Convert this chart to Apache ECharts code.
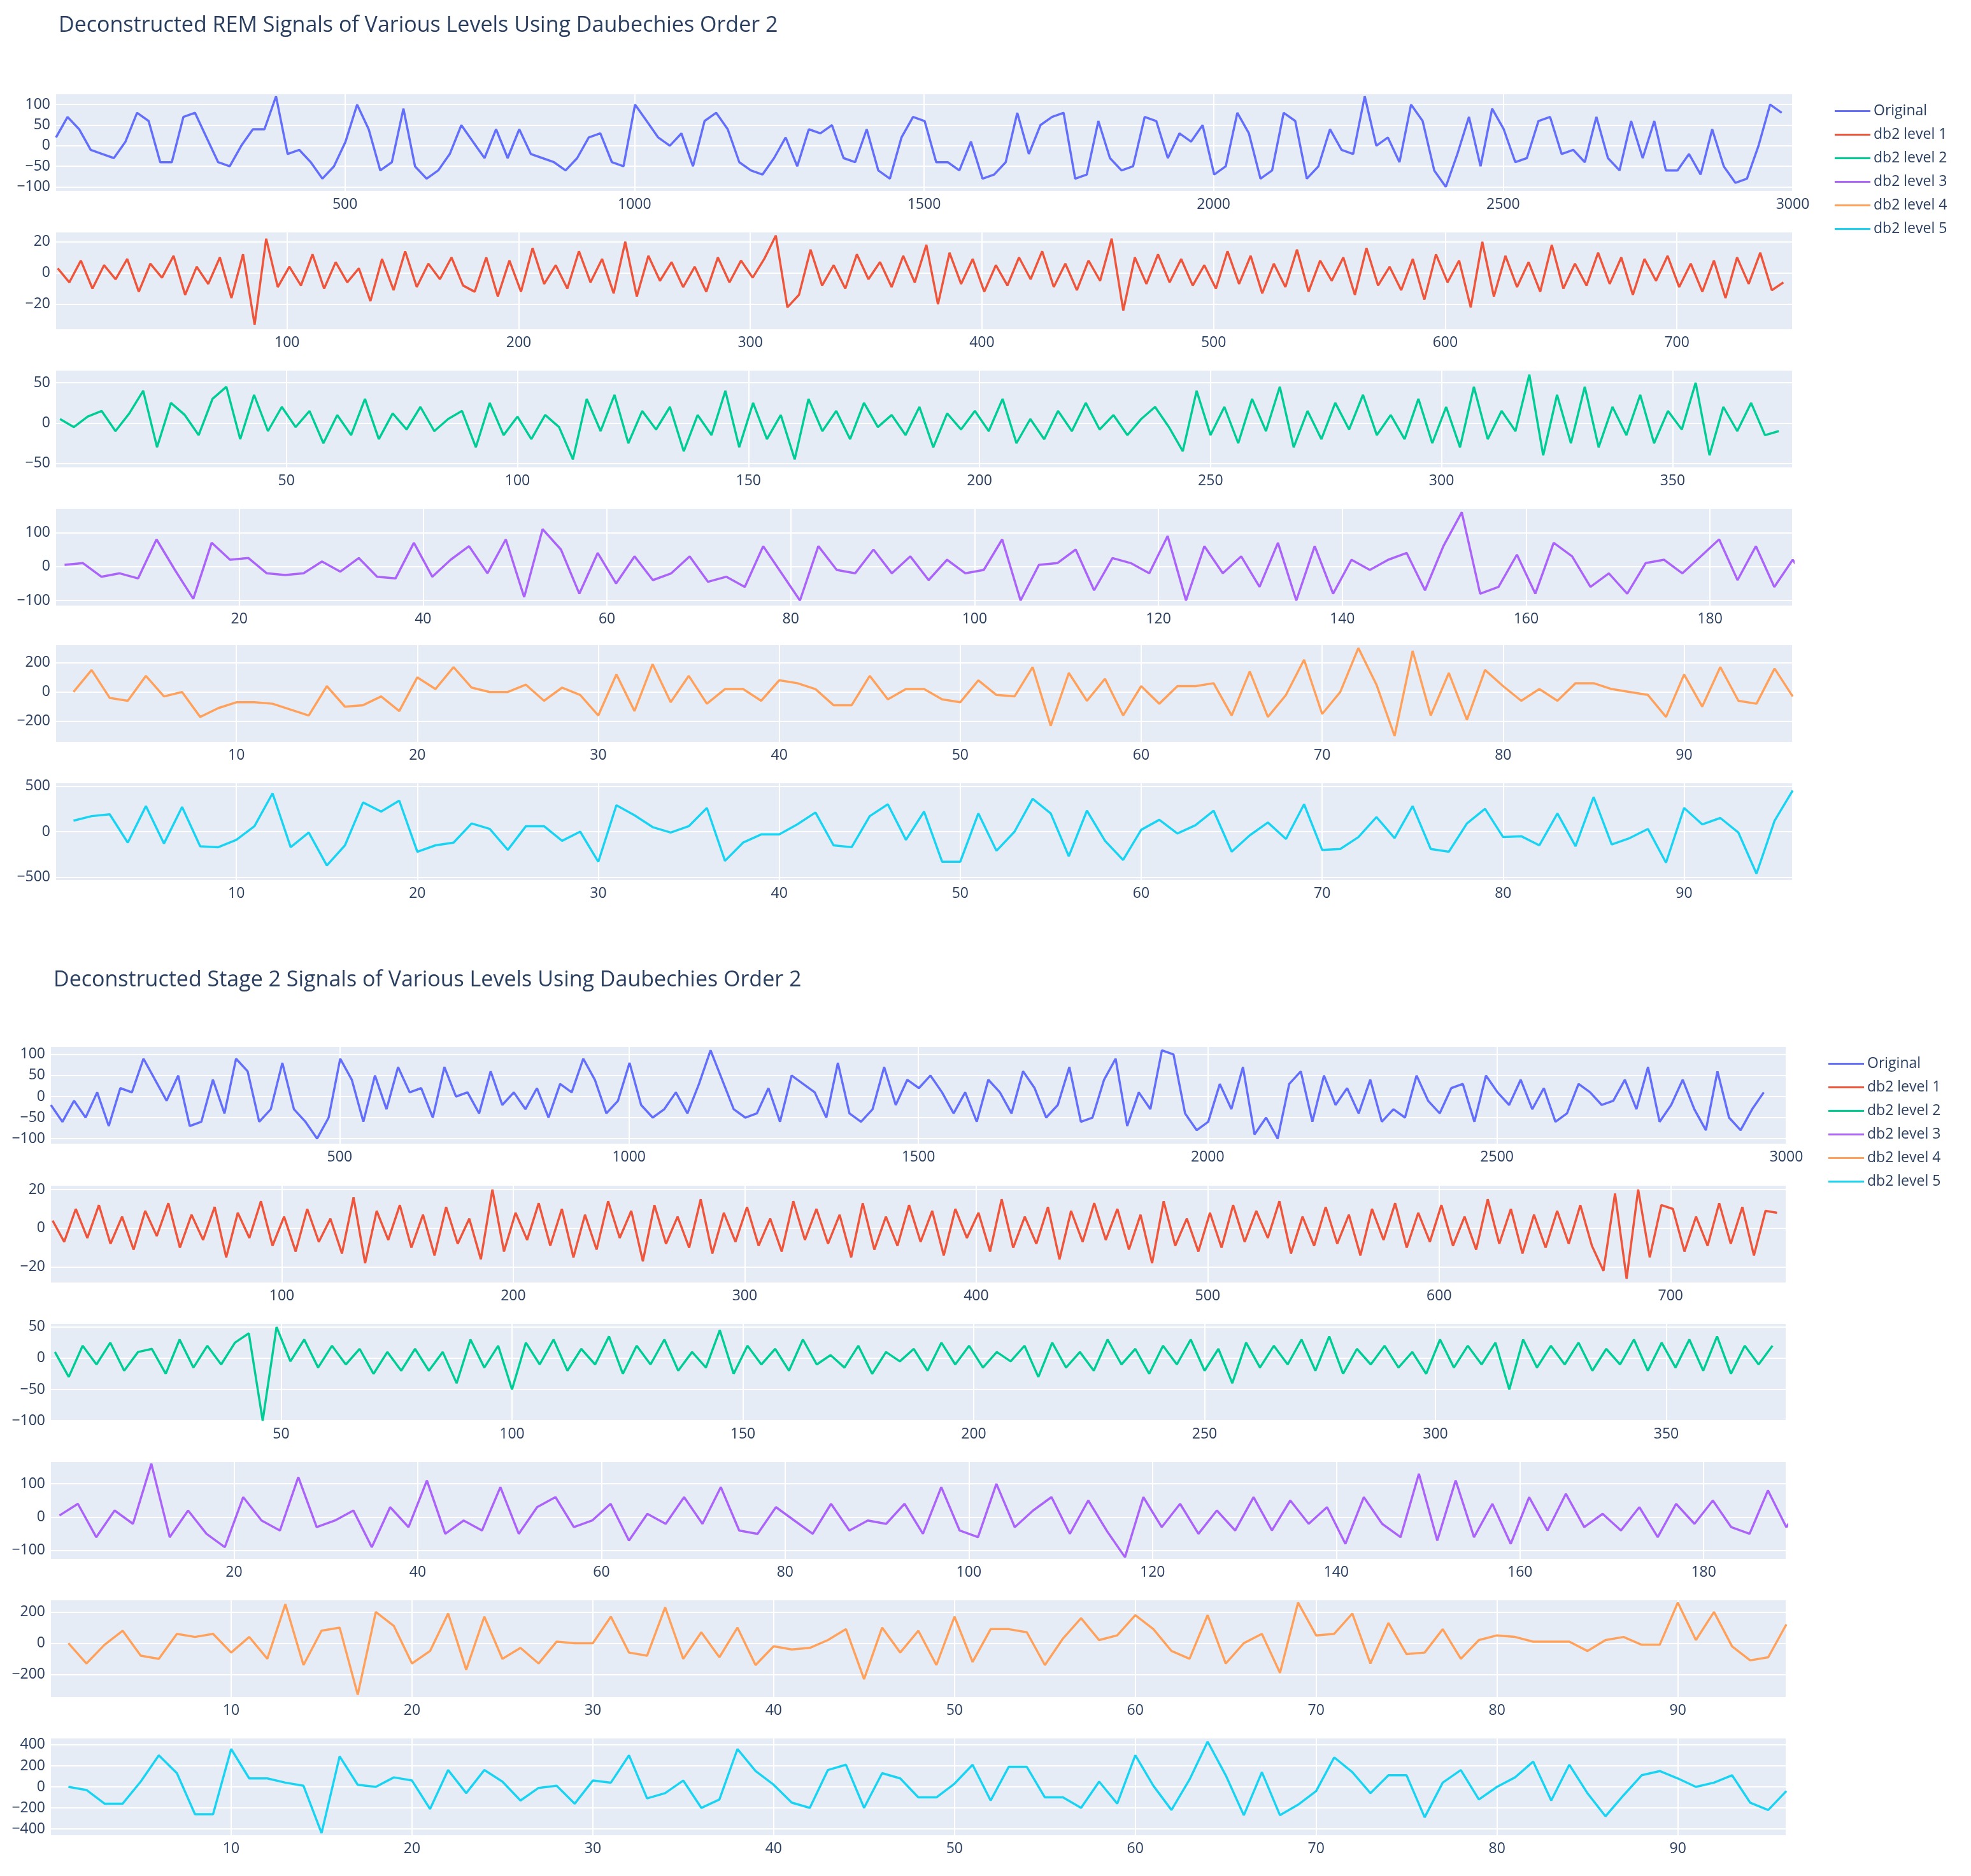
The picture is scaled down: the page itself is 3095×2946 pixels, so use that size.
<!DOCTYPE html>
<html><head><meta charset="utf-8">
<script src="https://cdn.jsdelivr.net/npm/echarts@6/dist/echarts.min.js"></script>
<style>html,body{margin:0;padding:0;background:#fff}#c{width:3095px;height:2946px}</style>
</head><body><div id="c"></div>
<script>
const seriesNames = ['Original','db2 level 1','db2 level 2','db2 level 3','db2 level 4','db2 level 5'];
const titles = ['Deconstructed REM Signals of Various Levels Using Daubechies Order 2','Deconstructed Stage 2 Signals of Various Levels Using Daubechies Order 2'];
const steps = [20,5,3,2,1,1];
const lengths = [3000,750,376,189,96,96];
const tickIntervals = [500,100,50,20,10,10];

// ---- REM ----
const remOriginal = [20,70,40,-10,-20,-30,10,80,60,-40,-40,70,80,20,-40,-50,0,40,40,120,
-20,-10,-40,-80,-50,10,100,40,-60,-40,90,-50,-80,-60,-20,50,10,-30,40,-30,
40,-20,-30,-40,-60,-30,20,30,-40,-50,100,60,20,0,30,-50,60,80,40,-40,
-60,-70,-30,20,-50,40,30,50,-30,-40,40,-60,-80,20,70,60,-40,-40,-60,10,
-80,-70,-40,80,-20,50,70,80,-80,-70,60,-30,-60,-50,70,60,-30,30,10,50,
-70,-50,80,30,-80,-60,80,60,-80,-50,40,-10,-20,120,0,20,-40,100,60,-60,
-100,-20,70,-50,90,40,-40,-30,60,70,-20,-10,-40,70,-30,-60,60,-30,60,-60,
-60,-20,-70,40,-50,-90,-80,0,100,80];
const remL1 = [3,-6,8,-10,5,-4,9,-12,6,-3,11,-14,4,-7,10,-16,12,-33,22,-9,
4,-8,12,-10,7,-6,3,-18,9,-11,14,-9,6,-4,10,-8,-12,10,-15,8,
-12,16,-7,5,-10,14,-6,9,-13,20,-15,11,-5,7,-9,4,-12,10,-6,8,
-3,9,24,-22,-14,15,-8,5,-10,12,-4,7,-9,11,-6,18,-20,13,-7,9,
-12,5,-8,10,-4,14,-9,6,-11,8,-5,22,-24,10,-7,12,-6,9,-8,5,
-10,14,-7,11,-13,6,-9,15,-12,8,-5,10,-14,16,-8,4,-11,9,-17,12,
-6,8,-22,20,-15,11,-9,7,-12,18,-10,6,-8,13,-7,10,-14,9,-5,11,
-9,6,-12,8,-16,10,-7,13,-11,-6];
const remL2 = [5,-5,8,15,-10,12,40,-30,25,10,-15,30,45,-20,35,-10,20,-5,15,-25,
10,-15,30,-20,12,-8,20,-10,5,15,-30,25,-15,8,-20,10,-5,-45,30,-10,
35,-25,15,-8,20,-35,10,-15,40,-30,25,-20,10,-45,30,-10,15,-20,25,-5,
10,-15,20,-30,12,-8,15,-10,30,-25,5,-20,15,-10,25,-8,10,-15,5,20,
-5,-35,40,-15,20,-25,30,-10,45,-30,15,-20,25,-8,35,-15,10,-20,30,-25,
20,-30,45,-20,15,-10,60,-40,35,-25,45,-30,20,-15,35,-25,15,-8,50,-40,
20,-10,25,-15,-10];
const remL3 = [5,10,-30,-20,-35,80,-10,-95,70,20,25,-20,-25,-20,15,-15,25,-30,-35,70,
-30,20,60,-20,80,-90,110,50,-80,40,-50,30,-40,-20,30,-45,-30,-60,60,-20,
-100,60,-10,-20,50,-20,30,-40,20,-20,-10,80,-100,5,10,50,-70,25,10,-20,
90,-100,60,-20,30,-60,70,-100,60,-80,20,-10,20,40,-70,60,160,-80,-60,35,
-80,70,30,-60,-20,-80,10,20,-20,30,80,-40,60,-60,20,-60,30,-60,100];
const remL4 = [0,150,-40,-60,110,-30,0,-170,-110,-70,-70,-80,-120,-160,40,-100,-90,-30,-130,100,
20,170,30,0,0,50,-60,30,-20,-160,120,-130,190,-70,110,-80,20,20,-60,80,
60,20,-90,-90,110,-50,20,20,-50,-70,80,-20,-30,170,-230,130,-60,90,-160,40,
-80,40,40,60,-160,140,-170,-20,220,-150,0,300,50,-300,280,-160,130,-190,150,40,
-60,20,-60,60,60,20,0,-20,-170,120,-100,170,-60,-80,160,-30];
const remL5 = [120,170,190,-120,280,-130,270,-160,-170,-90,60,420,-170,-10,-370,-150,320,220,340,-220,
-150,-120,90,30,-200,60,60,-100,0,-330,290,180,50,-10,60,260,-320,-120,-30,-30,
80,210,-150,-170,170,300,-90,220,-330,-330,200,-210,0,360,200,-270,230,-100,-310,20,
130,-20,70,230,-220,-40,100,-80,300,-200,-190,-60,160,-70,280,-190,-220,90,250,-60,
-50,-150,200,-160,380,-140,-70,30,-340,260,80,150,-10,-460,120,450];

// ---- Stage 2 ----
const s2Original = [-20,-60,-10,-50,10,-70,20,10,90,40,-10,50,-70,-60,40,-40,90,60,-60,-30,
80,-30,-60,-100,-50,90,40,-60,50,-30,70,10,20,-50,70,0,10,-40,60,-20,
10,-30,20,-50,30,10,90,40,-40,-10,80,-20,-50,-30,10,-40,30,110,40,-30,
-50,-40,20,-60,50,30,10,-50,80,-40,-60,-30,70,-20,40,20,50,10,-40,10,
-60,40,10,-40,60,20,-50,-20,70,-60,-50,40,90,-70,10,-30,110,100,-40,-80,
-60,30,-30,70,-90,-50,-100,30,60,-60,50,-20,20,-40,40,-60,-30,-50,50,-10,
-40,20,30,-60,50,10,-20,40,-30,20,-60,-40,30,10,-20,-10,40,-30,70,-60,
-20,40,-30,-80,60,-50,-80,-30,10];
const s2L1 = [4,-7,10,-5,12,-8,6,-11,9,-4,13,-10,7,-6,11,-15,8,-5,14,-9,
6,-12,10,-7,5,-13,16,-18,9,-6,12,-10,7,-14,11,-8,5,-16,20,-12,
8,-6,13,-9,10,-15,7,-11,14,-5,9,-17,12,-8,6,-10,15,-13,8,-7,
11,-9,5,-12,14,-6,10,-8,7,-15,13,-11,6,-9,12,-7,9,-14,10,-5,
8,-12,15,-10,6,-8,11,-16,9,-7,13,-6,10,-11,7,-18,14,-9,5,-12,
8,-10,12,-7,9,-5,14,-13,6,-9,11,-8,7,-14,10,-6,13,-10,8,-7,
12,-9,6,-11,15,-8,10,-13,7,-10,9,-8,12,-9,-22,18,-26,20,-15,12,
10,-12,6,-9,13,-8,11,-14,9,8];
const s2L2 = [10,-30,20,-10,25,-20,10,15,-25,30,-15,20,-10,25,40,-100,50,-5,30,-15,
20,-10,15,-25,10,-20,15,-20,10,-40,30,-15,20,-50,25,-10,30,-20,15,-10,
35,-25,20,-10,30,-20,10,-15,45,-25,20,-10,15,-20,30,-10,5,-15,20,-25,
10,-5,15,-20,25,-10,20,-15,10,-5,20,-30,25,-15,10,-20,30,-10,15,-25,
20,-10,30,-20,15,-40,25,-15,20,-10,30,-20,35,-25,15,-10,20,-15,10,-25,
30,-15,20,-10,25,-50,30,-15,20,-10,25,-20,15,-10,30,-20,25,-15,30,-20,
35,-25,20,-10,20];
const s2L3 = [5,40,-60,20,-20,160,-60,20,-50,-90,60,-10,-40,120,-30,-10,20,-90,30,-30,
110,-50,-10,-40,90,-50,30,60,-30,-10,40,-70,10,-20,60,-20,90,-40,-50,30,
-10,-50,40,-40,-10,-20,40,-50,90,-40,-60,100,-30,20,60,-50,50,-40,-120,60,
-30,40,-50,20,-40,60,-40,50,-20,30,-80,60,-20,-60,130,-70,110,-60,40,-80,
60,-40,70,-30,10,-40,30,-60,40,-20,50,-30,-50,80,-30,50,20,-70,50,-30];
const s2L4 = [0,-130,-10,80,-80,-100,60,40,60,-60,40,-100,250,-140,80,100,-330,200,110,-130,
-50,190,-170,170,-100,-30,-130,10,0,0,170,-60,-80,230,-100,70,-90,100,-140,-20,
-40,-30,20,90,-230,100,-60,80,-140,170,-120,90,90,70,-140,30,160,20,50,180,
90,-50,-100,180,-130,0,60,-190,260,50,60,190,-130,130,-70,-60,90,-100,20,50,
40,10,10,10,-50,20,40,-10,-10,260,20,200,-20,-110,-90,120];
const s2L5 = [0,-30,-160,-160,50,300,130,-260,-260,360,80,80,40,10,-440,290,20,0,90,60,
-210,160,-60,160,50,-130,-10,10,-160,60,40,300,-110,-60,60,-200,-120,360,150,20,
-150,-200,160,210,-200,130,80,-100,-100,30,210,-130,190,190,-100,-100,-200,50,-160,300,
10,-220,70,430,110,-270,140,-270,-170,-40,280,140,-60,110,110,-290,40,160,-120,0,
90,240,-130,210,-60,-280,-80,110,150,80,0,40,110,-150,-220,-40];

const groups = [
  [remOriginal, remL1, remL2, remL3, remL4, remL5],
  [s2Original, s2L1, s2L2, s2L3, s2L4, s2L5]
];
const yRanges = [
  [[-110,125],[-36,26],[-55,65],[-115,170],[-340,320],[-530,530]],
  [[-112,118],[-28,22],[-100,55],[-125,165],[-345,275],[-460,460]]
];
const yTicks = [
  [[-100,-50,0,50,100],[-20,0,20],[-50,0,50],[-100,0,100],[-200,0,200],[-500,0,500]],
  [[-100,-50,0,50,100],[-20,0,20],[-100,-50,0,50],[-100,0,100],[-200,0,200],[-400,-200,0,200,400]]
];
const colors = ['#636EFA','#EF553B','#00CC96','#AB63FA','#FFA15A','#19D3F3'];

const panelTops = [[148,365,582,799,1013,1230],[1644,1862,2079,2296,2513,2730]];
const grids=[], xAxes=[], yAxes=[], series=[];
const font = 'Open Sans, Noto Sans, sans-serif';
groups.forEach((g,gi)=>{
  g.forEach((vals,k)=>{
    const idx = grids.length;
    grids.push({left: gi===0?87:79, right: gi===0?280:290, top: panelTops[gi][k], height:152, backgroundColor:'#E5ECF6', show:true, borderWidth:0});
    const iv = tickIntervals[k];
    xAxes.push({gridIndex:idx, type:'value', min:0, max:lengths[k], interval:iv,
      axisLine:{show:false}, axisTick:{show:false},
      splitLine:{lineStyle:{color:'#fff',width:2}},
      axisLabel:{fontSize:23, color:'#2a3f5f', fontFamily:font, margin:10, showMinLabel:false,
        formatter:v=> (v>0 && v%iv===0)? String(v):''}});
    const [mn,mx] = yRanges[gi][k];
    const ticks = yTicks[gi][k];
    yAxes.push({gridIndex:idx, type:'value', min:mn, max:mx,
      axisLine:{show:false}, axisTick:{show:false, customValues:ticks},
      splitLine:{show:true, lineStyle:{color:'#fff',width:2}},
      axisLabel:{fontSize:23, color:'#2a3f5f', fontFamily:font, margin:8, customValues:ticks,
        formatter:v=>v<0?'\u2212'+(-v):String(v)}});
    const st = steps[k];
    const data = vals.map((v,i)=>[i*st+1, v]);
    series.push({name:seriesNames[k], type:'line', xAxisIndex:idx, yAxisIndex:idx, data,
      showSymbol:false, symbol:'none', lineStyle:{width:3.5,color:colors[k]}, itemStyle:{color:colors[k]},
      animation:false, z:3});
  });
});
const option = {
  animation:false,
  backgroundColor:'#fff',
  title: [
    {text:titles[0], left:87, top:18, textStyle:{fontSize:34, fontWeight:'normal', color:'#2a3f5f', fontFamily:font}},
    {text:titles[1], left:79, top:1517, textStyle:{fontSize:34, fontWeight:'normal', color:'#2a3f5f', fontFamily:font}}
  ],
  legend: [
    {left:2876, top:158, orient:'vertical', itemGap:14, itemWidth:56, itemHeight:24, icon:'path://M0,11 L56,11 L56,14 L0,14 Z',
      data:seriesNames, textStyle:{fontSize:23, color:'#2a3f5f', fontFamily:font}},
    {left:2866, top:1654, orient:'vertical', itemGap:14, itemWidth:56, itemHeight:24, icon:'path://M0,11 L56,11 L56,14 L0,14 Z',
      data:seriesNames, textStyle:{fontSize:23, color:'#2a3f5f', fontFamily:font}}
  ],
  grid:grids, xAxis:xAxes, yAxis:yAxes, series
};
const chart = echarts.init(document.getElementById('c'), null, {renderer:'canvas'});
chart.setOption(option);
</script></body></html>
